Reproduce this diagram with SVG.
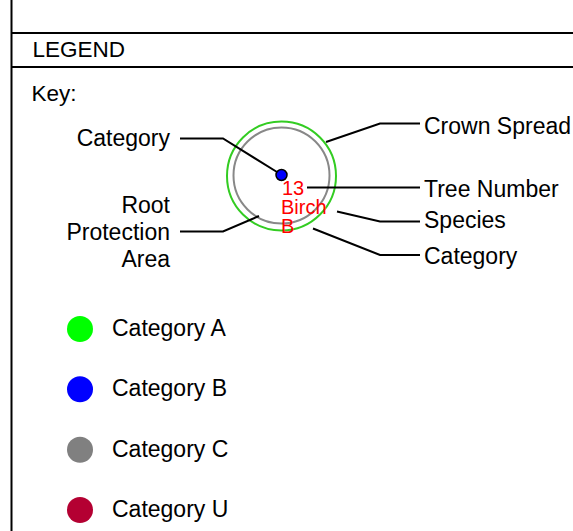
<svg xmlns="http://www.w3.org/2000/svg" width="573" height="531" viewBox="0 0 573 531">
<style>
text{font-family:"Liberation Sans",Arial,sans-serif;font-size:23px;fill:#000}
.end{text-anchor:end}
.red{fill:#ff0000;font-size:20px}
.frame{stroke:#000;stroke-width:2;fill:none}
.conn polyline{stroke:#000;stroke-width:2;fill:none}
</style>
<rect width="573" height="531" fill="#fff"/>
<g id="frame">
<line class="frame" x1="11.5" y1="0" x2="11.5" y2="531"/>
<line class="frame" x1="11" y1="33" x2="573" y2="33"/>
<line class="frame" x1="11" y1="67" x2="573" y2="67"/>
<text x="32.5" y="57" style="font-size:22.5px">LEGEND</text>
<text x="31.5" y="101" style="font-size:22.5px">Key:</text>
</g>
<g id="tree-symbol">
<circle cx="281.5" cy="176" r="54.5" fill="none" stroke="#33cc22" stroke-width="2"/>
<circle cx="281.5" cy="175.5" r="48" fill="none" stroke="#888888" stroke-width="2"/>
<circle cx="281.5" cy="175" r="5.5" fill="#0000ff" stroke="#000" stroke-width="1.5"/>
<text class="red" x="282" y="195">13</text>
<text class="red" x="281" y="214">Birch</text>
<text class="red" x="281" y="233">B</text>
</g>
<g class="conn" id="connectors">
<polyline points="180,138.5 223,138.5 277,172"/>
<polyline points="180,231.5 223,231.5 259,216"/>
<polyline points="326,142 380,123.5 420,123.5"/>
<polyline points="307,187.5 420,187.5"/>
<polyline points="337,211.5 380,221.5 420,221.5"/>
<polyline points="313,228.5 380,255 420,255"/>
</g>
<g id="labels">
<text class="end" x="170" y="146">Category</text>
<text class="end" x="170" y="213">Root</text>
<text class="end" x="170" y="240">Protection</text>
<text class="end" x="170" y="267">Area</text>
<text x="424" y="134">Crown Spread</text>
<text x="424" y="197">Tree Number</text>
<text x="424" y="228">Species</text>
<text x="424" y="264">Category</text>
</g>
<g id="cat-a"><circle cx="80" cy="329" r="13" fill="#00ff00"/><text x="112" y="336">Category A</text></g>
<g id="cat-b"><circle cx="80" cy="389.3" r="13" fill="#0000ff"/><text x="112" y="396.3">Category B</text></g>
<g id="cat-c"><circle cx="80" cy="449.7" r="13" fill="#808080"/><text x="112" y="456.7">Category C</text></g>
<g id="cat-u"><circle cx="80" cy="510" r="13" fill="#b40032"/><text x="112" y="517">Category U</text></g>
</svg>
